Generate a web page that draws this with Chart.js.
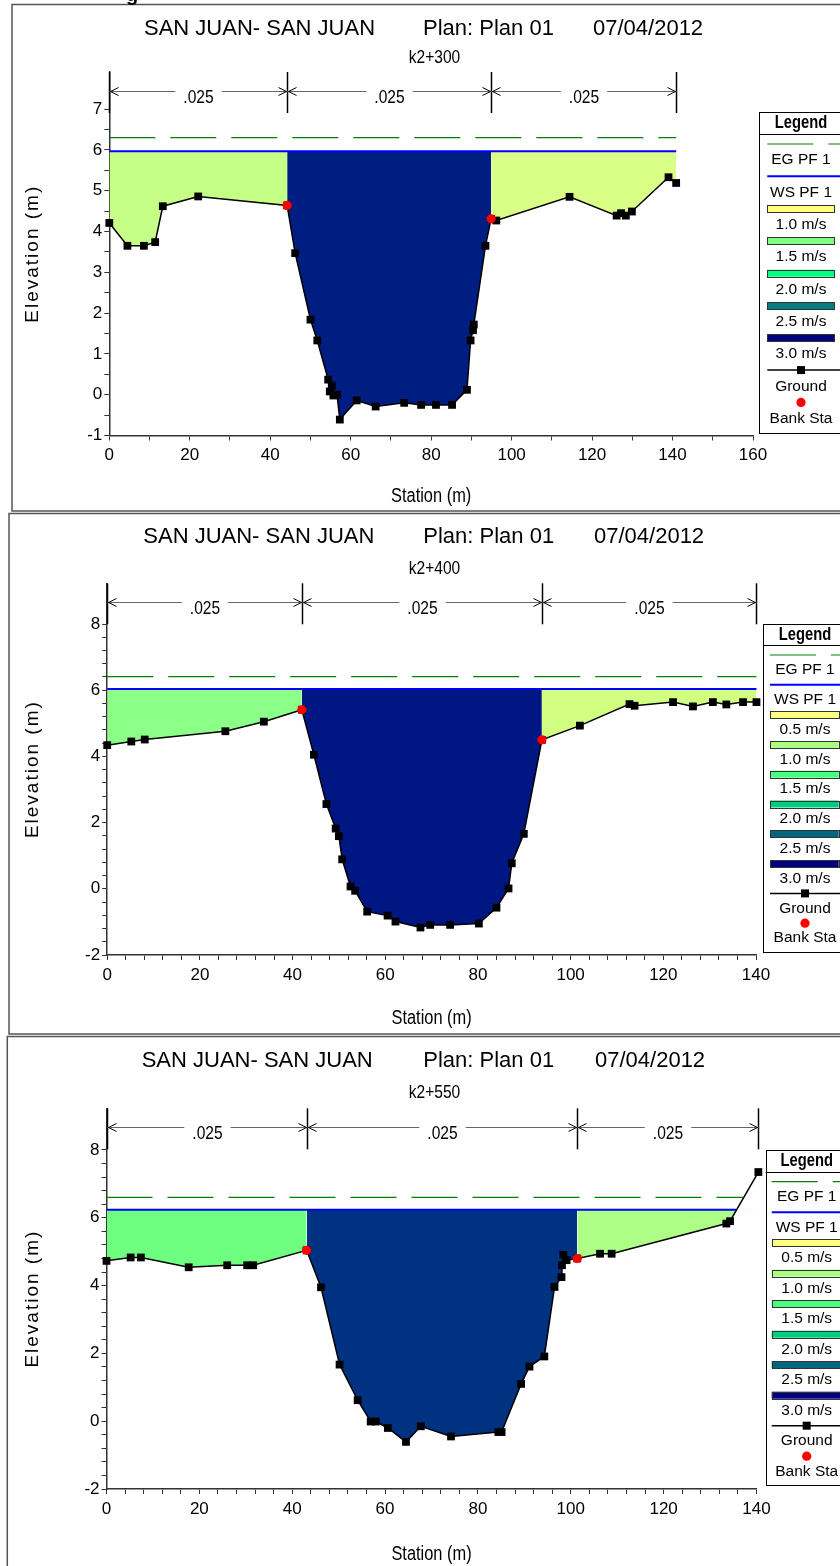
<!DOCTYPE html>
<html>
<head>
<meta charset="utf-8">
<title>San Juan cross sections</title>
<script src="https://cdn.jsdelivr.net/npm/chart.js@4.4.1/dist/chart.umd.min.js"></script>
<style>
  body { margin: 0; background: #fff; width: 840px; height: 1566px; overflow: hidden; position: relative; }
  canvas { position: absolute; left: 0; }
</style>
</head>
<body>
<canvas id="c300" width="840" height="512" style="top:0px"></canvas>
<canvas id="c400" width="840" height="523" style="top:512px"></canvas>
<canvas id="c550" width="840" height="531" style="top:1035px"></canvas>
<script>
// ---- data ----
const river = 'SAN JUAN- SAN JUAN';
const plan = 'Plan: Plan 01';
const runDate = '07/04/2012';
const rsLabels = ['k2+300', 'k2+400', 'k2+550'];
const nValues = ['.025', '.025', '.025'];

// k2+300
const sta300 = [0, 4.5, 8.6, 11.4, 13.3, 22.1, 44.2, 46.2, 50.0, 51.7, 54.4, 54.8, 55.3, 55.7, 56.6, 57.3, 61.5, 66.2, 73.3, 77.5,
  81.2, 85.2, 88.9, 89.8, 90.4, 90.6, 93.5, 94.9, 96.2, 114.4, 126.1, 127.2, 128.4, 129.9, 139.0, 140.9];
const elev300 = [4.21, 3.65, 3.65, 3.74, 4.62, 4.86, 4.64, 3.47, 1.84, 1.33, 0.37, 0.08, 0.22, -0.02, 0.0, -0.61, -0.14, -0.29, -0.2, -0.25,
  -0.25, -0.25, 0.12, 1.33, 1.58, 1.72, 3.65, 4.31, 4.27, 4.85, 4.39, 4.45, 4.39, 4.49, 5.33, 5.19];
const bank300 = [44.2, 94.9];

// k2+400
const sta400 = [0, 5.2, 8.1, 25.5, 33.8, 42.0, 44.6, 47.3, 49.3, 50.0, 50.7, 52.5, 53.5, 56.1, 60.5, 62.2, 67.6, 69.7, 74.0, 80.2,
  84.0, 86.6, 87.3, 89.9, 93.8, 102.0, 112.7, 113.8, 122.1, 126.4, 130.7, 133.6, 137.2, 140.1];
const elev400 = [4.34, 4.45, 4.51, 4.76, 5.05, 5.41, 4.05, 2.56, 1.82, 1.59, 0.89, 0.07, -0.06, -0.69, -0.81, -0.99, -1.17, -1.09, -1.09, -1.05,
  -0.57, 0.01, 0.77, 1.66, 4.5, 4.93, 5.58, 5.53, 5.64, 5.51, 5.64, 5.57, 5.64, 5.64];
const bank400 = [42.0, 93.8];

// k2+550
const sta550 = [0, 5.2, 7.4, 17.7, 26.0, 30.3, 31.6, 43.1, 46.2, 50.2, 54.1, 56.9, 58.0, 60.6, 64.5, 67.7, 74.2, 84.4, 85.1, 89.3,
  91.1, 94.3, 96.5, 98.0, 98.1, 98.4, 99.1, 101.4, 106.3, 108.8, 133.5, 134.3, 140.4];
const elev550 = [4.73, 4.83, 4.83, 4.54, 4.6, 4.6, 4.6, 5.04, 3.95, 1.67, 0.62, -0.01, -0.01, -0.2, -0.61, -0.15, -0.45, -0.32, -0.32, 1.1,
  1.61, 1.91, 3.96, 4.25, 4.6, 4.91, 4.75, 4.8, 4.94, 4.94, 5.83, 5.9, 7.35];
const bank550 = [43.1, 101.4];

// water surface / energy grade per section, and the station where each line ends
const wsElev = [5.97, 6.04, 6.24];
const egElev = [6.3, 6.41, 6.6];
const wsEnd = [140.9, 140.1, 135.6];
const egEnd = [140.9, 140.1, 137.1];

const vel300 = ['1.0 m/s', '1.5 m/s', '2.0 m/s', '2.5 m/s', '3.0 m/s'];
const vel400 = ['0.5 m/s', '1.0 m/s', '1.5 m/s', '2.0 m/s', '2.5 m/s', '3.0 m/s'];
const vel550 = ['0.5 m/s', '1.0 m/s', '1.5 m/s', '2.0 m/s', '2.5 m/s', '3.0 m/s'];

// ---- styles ----
const velColors5 = ['#ffff80', '#80ff80', '#00ff80', '#008080', '#000080'];
const velColors6 = ['#ffff80', '#a8ff80', '#48ff80', '#00cc80', '#006680', '#000080'];
const fill300 = ['#c6ff86', '#001e82', '#daff86'];
const fill400 = ['#8cff88', '#001682', '#d2ff82'];
const fill550 = ['#6eff80', '#003282', '#adff86'];

const REG = '"Liberation Sans", Arial, sans-serif';
const NAR = '"Liberation Sans Narrow", "Liberation Sans", Arial, sans-serif';

// is a narrow face really installed? same width against two different fallbacks means yes
const probe = document.createElement('canvas').getContext('2d');
probe.font = '40px "Liberation Sans Narrow", monospace';
const wA = probe.measureText('Station 0123').width;
probe.font = '40px "Liberation Sans Narrow", serif';
const wB = probe.measureText('Station 0123').width;
const hasNarrow = Math.abs(wA - wB) < 0.5;
const squeeze = hasNarrow ? 1 : 0.82;

// page layout of the three panels (page pixel coords)
const panels = [
  { id: 'c300', off: 0, h: 512, sta: sta300, elev: elev300, bank: bank300, vel: vel300, velCol: velColors5, fills: fill300,
    frame: { x: 12, y: 4.5, b: 511 }, plot: { l: 109.3, r: 753, t: 72, b: 435.5 },
    x: { max: 160, step: 10 }, y: { min: -1, max: 7.91, step: 0.5, every: 1, top: 7 },
    tx: [144, 423, 593], ty: 35, ky: 63, sy: 502,
    leg: { l: 759.3, t: 112, b: 432.7, head: 128.3, sep: 134.3, y0: 144, step: 32.3, cx: 801, sym: 767.3, boxR: 834 } },
  { id: 'c400', off: 512, h: 523, sta: sta400, elev: elev400, bank: bank400, vel: vel400, velCol: velColors6, fills: fill400,
    frame: { x: 9, y: 513.5, b: 1034 }, plot: { l: 107.2, r: 756, t: 583.3, b: 955 },
    x: { max: 140, step: 4 }, y: { min: -2, max: 9.23, step: 0.4, every: 2, top: 8 },
    tx: [143.3, 423.3, 594], ty: 543.3, ky: 574, sy: 1024,
    leg: { l: 763.3, t: 624.3, b: 952, head: 640, sep: 645, y0: 655, step: 29.8, cx: 805, sym: 770, boxR: 838.7 } },
  { id: 'c550', off: 1035, h: 531, sta: sta550, elev: elev550, bank: bank550, vel: vel550, velCol: velColors6, fills: fill550,
    frame: { x: 7.3, y: 1036.5, b: 1600 }, plot: { l: 106.5, r: 756.5, t: 1108.3, b: 1489 },
    x: { max: 140, step: 4 }, y: { min: -2, max: 9.23, step: 0.4, every: 2, top: 8 },
    tx: [141.7, 423.3, 595], ty: 1067.3, ky: 1098.3, sy: 1560,
    leg: { l: 765.7, t: 1150, b: 1485, head: 1165.5, sep: 1171.7, y0: 1181.7, step: 30.5, cx: 806.7, sym: 771.7, boxR: 845 } }
];

function txt(ctx, s, x, y, size, o) {
  o = o || {};
  ctx.save();
  ctx.font = (o.bold ? 'bold ' : '') + size + 'px ' + (o.narrow ? NAR : REG);
  ctx.fillStyle = '#000';
  ctx.textAlign = o.align || 'left';
  ctx.textBaseline = o.base || 'alphabetic';
  ctx.letterSpacing = (o.ls || 0) + 'px';
  ctx.translate(x, y);
  if (o.rot) ctx.rotate(o.rot);
  if (o.narrow) ctx.scale(squeeze, 1);
  ctx.fillText(s, 0, 0);
  ctx.restore();
}

function textWidth(ctx, s, size, narrow) {
  ctx.save();
  ctx.font = size + 'px ' + (narrow ? NAR : REG);
  const w = ctx.measureText(s).width * (narrow ? squeeze : 1);
  ctx.restore();
  return w;
}

function pts(p, lo, hi) {
  const out = [];
  p.sta.forEach((s, i) => { if (s >= lo && s <= hi) out.push({ x: s, y: p.elev[i] }); });
  return out;
}

// Manning's n brackets over the plot
function drawBrackets(chart, p) {
  const { ctx, chartArea: ca } = chart;
  const xs = chart.scales.x;
  const edges = [p.sta[0], p.bank[0], p.bank[1], p.sta[p.sta.length - 1]].map(s => Math.round(xs.getPixelForValue(s)) + 0.5);
  const top = ca.top, bot = ca.top + 41, ay = Math.round(ca.top + 19) + 0.5;
  ctx.save();
  ctx.strokeStyle = '#000';
  ctx.lineWidth = 1.5;
  edges.forEach(px => { ctx.beginPath(); ctx.moveTo(px, top); ctx.lineTo(px, bot); ctx.stroke(); });
  for (let i = 0; i < 3; i++) {
    const x1 = edges[i], x2 = edges[i + 1], mid = (x1 + x2) / 2;
    const w = textWidth(ctx, nValues[i], 19, true);
    ctx.strokeStyle = '#666';
    ctx.lineWidth = 1;
    ctx.beginPath();
    ctx.moveTo(x1, ay); ctx.lineTo(mid - w / 2 - 8, ay);
    ctx.moveTo(mid + w / 2 + 8, ay); ctx.lineTo(x2, ay);
    ctx.stroke();
    ctx.strokeStyle = '#000';
    ctx.beginPath();
    ctx.moveTo(x1 + 9, ay - 4); ctx.lineTo(x1 + 1, ay); ctx.lineTo(x1 + 9, ay + 4);
    ctx.moveTo(x2 - 9, ay - 4); ctx.lineTo(x2 - 1, ay); ctx.lineTo(x2 - 9, ay + 4);
    ctx.stroke();
    txt(ctx, nValues[i], mid, ay + 11, 19, { narrow: true, align: 'center' });
  }
  ctx.restore();
}

function drawLegend(ctx, p) {
  const L = p.leg, o = p.off;
  const top = L.t - o, bot = L.b - o;
  ctx.save();
  ctx.fillStyle = '#fff';
  ctx.fillRect(L.l, top, 900, bot - top);
  ctx.strokeStyle = '#000';
  ctx.lineWidth = 1;
  ctx.strokeRect(Math.round(L.l) + 0.5, Math.round(top) + 0.5, 900, Math.round(bot - top));
  ctx.beginPath();
  ctx.moveTo(L.l, Math.round(L.sep - o) + 0.5); ctx.lineTo(840, Math.round(L.sep - o) + 0.5);
  ctx.stroke();
  txt(ctx, 'Legend', L.cx, L.head - o, 18, { bold: true, narrow: true, align: 'center' });

  const items = [{ k: 'eg', t: 'EG PF 1' }, { k: 'ws', t: 'WS PF 1' }];
  p.vel.forEach((t, i) => items.push({ k: 'box', t: t, c: p.velCol[i] }));
  items.push({ k: 'ground', t: 'Ground' }, { k: 'bank', t: 'Bank Sta' });

  items.forEach((it, i) => {
    const y = L.y0 - o + i * L.step;
    ctx.save();
    if (it.k === 'eg') {
      ctx.strokeStyle = '#008000'; ctx.lineWidth = 1.2; ctx.setLineDash([46, 15]);
      ctx.beginPath(); ctx.moveTo(L.sym, y); ctx.lineTo(840, y); ctx.stroke();
    } else if (it.k === 'ws') {
      ctx.strokeStyle = '#0000ff'; ctx.lineWidth = 2;
      ctx.beginPath(); ctx.moveTo(L.sym, y); ctx.lineTo(840, y); ctx.stroke();
    } else if (it.k === 'box') {
      ctx.fillStyle = it.c; ctx.strokeStyle = '#333'; ctx.lineWidth = 1;
      ctx.fillRect(L.sym, y - 3.5, L.boxR - L.sym, 7);
      ctx.strokeRect(Math.round(L.sym) + 0.5, Math.round(y - 3.5) + 0.5, Math.round(L.boxR - L.sym), 7);
    } else if (it.k === 'ground') {
      ctx.strokeStyle = '#000'; ctx.lineWidth = 1.5;
      ctx.beginPath(); ctx.moveTo(L.sym, y); ctx.lineTo(840, y); ctx.stroke();
      ctx.fillStyle = '#000'; ctx.fillRect(L.cx - 4, y - 4, 8, 8);
    } else {
      ctx.fillStyle = '#ff0000';
      ctx.beginPath(); ctx.arc(L.cx, y, 4.6, 0, Math.PI * 2); ctx.fill();
    }
    ctx.restore();
    txt(ctx, it.t, L.cx, y + L.step / 2, 15.5, { align: 'center', base: 'middle' });
  });
  ctx.restore();
}

panels.forEach((p, idx) => {
  const o = p.off;
  const ws = wsElev[idx], eg = egElev[idx];
  const bankPts = p.bank.map(b => ({ x: b, y: p.elev[p.sta.indexOf(b)] }));

  const fillSet = (data, color) => ({
    data: data, borderColor: 'rgba(0,0,0,0)', borderWidth: 1, pointRadius: 0,
    fill: { target: { value: ws }, above: 'rgba(0,0,0,0)', below: color }
  });

  const decor = {
    id: 'decor' + idx,
    afterDraw(chart) {
      const ctx = chart.ctx, ca = chart.chartArea;
      ctx.save();
      ctx.strokeStyle = '#555';
      ctx.lineWidth = 1.5;
      ctx.strokeRect(p.frame.x, p.frame.y - o, 900, p.frame.b - p.frame.y);
      ctx.restore();
      if (idx === 0) txt(ctx, 'g', 126, 1, 20, { bold: true });

      txt(ctx, river, p.tx[0], p.ty - o, 22);
      txt(ctx, plan, p.tx[1], p.ty - o, 22);
      txt(ctx, runDate, p.tx[2], p.ty - o, 22);
      txt(ctx, rsLabels[idx], 434.5, p.ky - o, 19, { narrow: true, align: 'center' });

      drawBrackets(chart, p);

      txt(ctx, 'Station (m)', (ca.left + ca.right) / 2, p.sy - o, 20, { narrow: true, align: 'center' });
      txt(ctx, 'Elevation (m)', 33, (ca.top + ca.bottom) / 2, 19,
        { align: 'center', base: 'middle', rot: -Math.PI / 2, ls: 2 });

      drawLegend(ctx, p);
    }
  };

  const tickFont = { family: hasNarrow ? NAR : REG, size: hasNarrow ? 19 : 17 };

  new Chart(document.getElementById(p.id).getContext('2d'), {
    type: 'line',
    data: {
      datasets: [
        { label: 'Bank Sta', data: bankPts, showLine: false, pointStyle: 'circle', pointRadius: 4.6,
          pointBackgroundColor: '#ff0000', pointBorderColor: '#ff0000', pointBorderWidth: 0, clip: false },
        { label: 'Ground', data: pts(p, -1, 999), borderColor: '#000', borderWidth: 1.5, pointStyle: 'rect', pointRadius: 5.5,
          pointBackgroundColor: '#000', pointBorderColor: '#000', pointBorderWidth: 0, fill: false, clip: false },
        { label: 'WS PF 1', data: [{ x: p.sta[0], y: ws }, { x: wsEnd[idx], y: ws }], borderColor: '#0000ff', borderWidth: 2,
          pointRadius: 0, fill: false, clip: false },
        { label: 'EG PF 1', data: [{ x: p.sta[0], y: eg }, { x: egEnd[idx], y: eg }], borderColor: '#008000', borderWidth: 1.2,
          borderDash: [46, 15], pointRadius: 0, fill: false, clip: false },
        fillSet(pts(p, -1, p.bank[0]), p.fills[0]),
        fillSet(pts(p, p.bank[0], p.bank[1]), p.fills[1]),
        fillSet(pts(p, p.bank[1], 999), p.fills[2])
      ]
    },
    options: {
      responsive: false,
      animation: false,
      devicePixelRatio: 1,
      events: [],
      layout: { padding: { left: 0, top: p.plot.t - o, right: 840 - p.plot.r, bottom: 0 } },
      plugins: { legend: { display: false }, tooltip: { enabled: false }, title: { display: false } },
      scales: {
        x: {
          type: 'linear', min: 0, max: p.x.max,
          afterFit: s => { s.height = p.h - (p.plot.b - o); },
          ticks: { stepSize: p.x.step, autoSkip: false, maxRotation: 0, includeBounds: false, padding: 5,
            color: '#000', font: tickFont, callback: v => (v % 20 === 0 ? String(v) : '') },
          grid: { drawOnChartArea: false, tickLength: 5, color: '#333', lineWidth: 1 },
          border: { color: '#333', width: 1.5 }
        },
        y: {
          type: 'linear', min: p.y.min, max: p.y.max,
          afterFit: s => { s.width = p.plot.l; },
          afterBuildTicks: s => { s.ticks = s.ticks.filter(t => t.value <= p.y.top + 1e-6); },
          ticks: { stepSize: p.y.step, autoSkip: false, includeBounds: false, padding: 2, color: '#000', font: tickFont,
            callback: v => {
              const q = v / p.y.every;
              return Math.abs(q - Math.round(q)) < 1e-6 ? String(Math.round(v)) : '';
            } },
          grid: { drawOnChartArea: false, tickLength: 5, color: '#333', lineWidth: 1 },
          border: { color: '#333', width: 1.5 }
        }
      }
    },
    plugins: [decor]
  });
});
</script>
</body>
</html>
